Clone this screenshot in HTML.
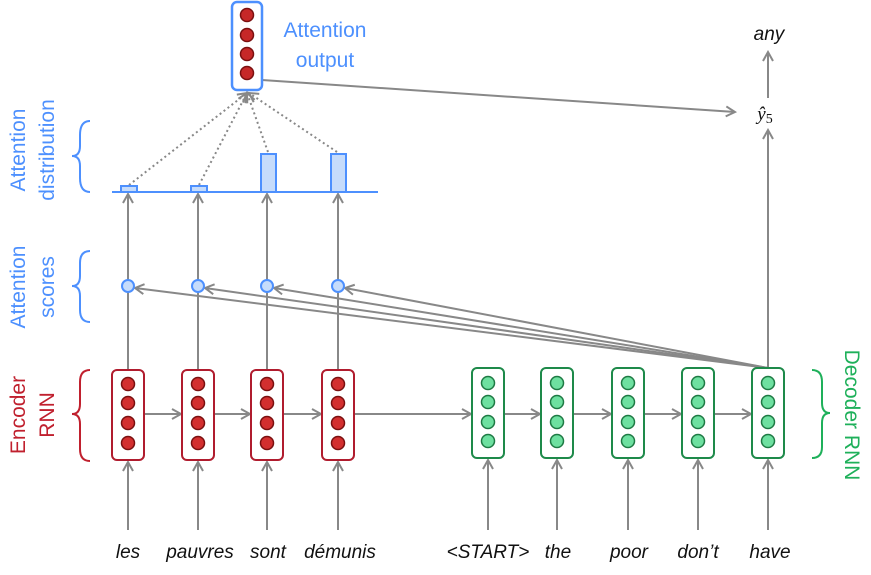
<!DOCTYPE html>
<html><head><style>
body{margin:0;background:#fff;}
svg{display:block;font-family:"Liberation Sans",sans-serif;}
</style></head><body>
<svg width="871" height="575" viewBox="0 0 871 575" xmlns="http://www.w3.org/2000/svg">
<defs>
<marker id="a" markerWidth="12" markerHeight="12" refX="10" refY="6" orient="auto" markerUnits="userSpaceOnUse">
<path d="M1,1 L10,6 L1,11" fill="none" stroke="#888" stroke-width="2"/>
</marker>
</defs>
<g stroke="#888" stroke-width="2" fill="none">
<!-- input arrows -->
<line x1="128" y1="530" x2="128" y2="462" marker-end="url(#a)"/>
<line x1="198" y1="530" x2="198" y2="462" marker-end="url(#a)"/>
<line x1="267" y1="530" x2="267" y2="462" marker-end="url(#a)"/>
<line x1="338" y1="530" x2="338" y2="462" marker-end="url(#a)"/>
<line x1="488" y1="530" x2="488" y2="460" marker-end="url(#a)"/>
<line x1="557" y1="530" x2="557" y2="460" marker-end="url(#a)"/>
<line x1="628" y1="530" x2="628" y2="460" marker-end="url(#a)"/>
<line x1="698" y1="530" x2="698" y2="460" marker-end="url(#a)"/>
<line x1="768" y1="530" x2="768" y2="460" marker-end="url(#a)"/>
<!-- horizontal -->
<line x1="144" y1="414" x2="181" y2="414" marker-end="url(#a)"/>
<line x1="214" y1="414" x2="250" y2="414" marker-end="url(#a)"/>
<line x1="283" y1="414" x2="321" y2="414" marker-end="url(#a)"/>
<line x1="354" y1="414" x2="471" y2="414" marker-end="url(#a)"/>
<line x1="504" y1="414" x2="540" y2="414" marker-end="url(#a)"/>
<line x1="573" y1="414" x2="611" y2="414" marker-end="url(#a)"/>
<line x1="644" y1="414" x2="681" y2="414" marker-end="url(#a)"/>
<line x1="714" y1="414" x2="751" y2="414" marker-end="url(#a)"/>
<!-- encoder up to scores -->
<line x1="128" y1="370" x2="128" y2="292"/>
<line x1="198" y1="370" x2="198" y2="292"/>
<line x1="267" y1="370" x2="267" y2="292"/>
<line x1="338" y1="370" x2="338" y2="292"/>
<!-- scores to dist -->
<line x1="128" y1="280" x2="128" y2="194" marker-end="url(#a)"/>
<line x1="198" y1="280" x2="198" y2="194" marker-end="url(#a)"/>
<line x1="267" y1="280" x2="267" y2="194" marker-end="url(#a)"/>
<line x1="338" y1="280" x2="338" y2="194" marker-end="url(#a)"/>
<!-- decoder to scores -->
<line x1="768" y1="368" x2="135" y2="288" marker-end="url(#a)"/>
<line x1="768" y1="368" x2="205" y2="288" marker-end="url(#a)"/>
<line x1="768" y1="368" x2="274" y2="288" marker-end="url(#a)"/>
<line x1="768" y1="368" x2="345" y2="288" marker-end="url(#a)"/>
<!-- decoder up -->
<line x1="768" y1="368" x2="768" y2="130" marker-end="url(#a)"/>
<line x1="768" y1="98" x2="768" y2="52" marker-end="url(#a)"/>
<line x1="262" y1="80" x2="735" y2="112" marker-end="url(#a)"/>
<!-- dotted -->
<g stroke-dasharray="2,3" stroke-width="2">
<line x1="129" y1="185" x2="247" y2="93" marker-end="url(#a)"/>
<line x1="199" y1="185" x2="247" y2="93" marker-end="url(#a)"/>
<line x1="268" y1="152" x2="247" y2="93" marker-end="url(#a)"/>
<line x1="337" y1="152" x2="249" y2="93" marker-end="url(#a)"/>
</g>
</g>
<!-- dist -->
<g stroke="#4d90fe" stroke-width="2" fill="#c6dcfb">
<line x1="112" y1="192" x2="378" y2="192"/>
<rect x="121" y="186" width="16" height="6"/>
<rect x="191" y="186" width="16" height="6"/>
<rect x="261" y="154" width="15" height="38"/>
<rect x="331" y="154" width="15" height="38"/>
<circle cx="128" cy="286" r="6"/><circle cx="198" cy="286" r="6"/><circle cx="267" cy="286" r="6"/><circle cx="338" cy="286" r="6"/>
</g>
<!-- attention output -->
<rect x="232" y="2" width="30" height="88" rx="5" fill="#fff" stroke="#4d90fe" stroke-width="2.5"/>
<g fill="#c62828" stroke="#7a1010" stroke-width="1.5">
<circle cx="247" cy="15" r="6.5"/><circle cx="247" cy="35" r="6.5"/><circle cx="247" cy="54" r="6.5"/><circle cx="247" cy="73" r="6.5"/>
</g>
<!-- encoder boxes -->
<g stroke="#b01c2e" stroke-width="2" fill="#fff">
<rect x="112" y="370" width="32" height="90" rx="5"/>
<rect x="182" y="370" width="32" height="90" rx="5"/>
<rect x="251" y="370" width="32" height="90" rx="5"/>
<rect x="322" y="370" width="32" height="90" rx="5"/>
</g>
<g fill="#d32f2f" stroke="#7a1010" stroke-width="1.5">
<circle cx="128" cy="384" r="6.5"/><circle cx="128" cy="403" r="6.5"/><circle cx="128" cy="423" r="6.5"/><circle cx="128" cy="443" r="6.5"/>
<circle cx="198" cy="384" r="6.5"/><circle cx="198" cy="403" r="6.5"/><circle cx="198" cy="423" r="6.5"/><circle cx="198" cy="443" r="6.5"/>
<circle cx="267" cy="384" r="6.5"/><circle cx="267" cy="403" r="6.5"/><circle cx="267" cy="423" r="6.5"/><circle cx="267" cy="443" r="6.5"/>
<circle cx="338" cy="384" r="6.5"/><circle cx="338" cy="403" r="6.5"/><circle cx="338" cy="423" r="6.5"/><circle cx="338" cy="443" r="6.5"/>
</g>
<!-- decoder boxes -->
<g stroke="#1e8a4a" stroke-width="2" fill="#fff">
<rect x="472" y="368" width="32" height="90" rx="5"/>
<rect x="541" y="368" width="32" height="90" rx="5"/>
<rect x="612" y="368" width="32" height="90" rx="5"/>
<rect x="682" y="368" width="32" height="90" rx="5"/>
<rect x="752" y="368" width="32" height="90" rx="5"/>
</g>
<g fill="#6ee0a0" stroke="#1e7a44" stroke-width="1.5">
<circle cx="488" cy="383" r="6.5"/><circle cx="488" cy="402" r="6.5"/><circle cx="488" cy="422" r="6.5"/><circle cx="488" cy="441" r="6.5"/>
<circle cx="557" cy="383" r="6.5"/><circle cx="557" cy="402" r="6.5"/><circle cx="557" cy="422" r="6.5"/><circle cx="557" cy="441" r="6.5"/>
<circle cx="628" cy="383" r="6.5"/><circle cx="628" cy="402" r="6.5"/><circle cx="628" cy="422" r="6.5"/><circle cx="628" cy="441" r="6.5"/>
<circle cx="698" cy="383" r="6.5"/><circle cx="698" cy="402" r="6.5"/><circle cx="698" cy="422" r="6.5"/><circle cx="698" cy="441" r="6.5"/>
<circle cx="768" cy="383" r="6.5"/><circle cx="768" cy="402" r="6.5"/><circle cx="768" cy="422" r="6.5"/><circle cx="768" cy="441" r="6.5"/>
</g>
<!-- braces -->
<g fill="none" stroke-width="2">
<path d="M90,121 Q80,121 80,135 L80,146 Q80,156 72,156 Q80,156 80,166 L80,178 Q80,192 90,192" stroke="#4d90fe"/>
<path d="M90,251 Q80,251 80,263 L80,276 Q80,286 72,286 Q80,286 80,296 L80,310 Q80,322 90,322" stroke="#4d90fe"/>
<path d="M90,370 Q80,370 80,382 L80,404 Q80,414 72,414 Q80,414 80,424 L80,449 Q80,461 90,461" stroke="#c0202e"/>
<path d="M812,370 Q822,370 822,382 L822,403 Q822,413 830,413 Q822,413 822,423 L822,447 Q822,458 812,458" stroke="#1eb05a"/>
</g>
<!-- labels -->
<g font-size="21" text-anchor="middle">
<text x="325" y="37" fill="#4d90fe">Attention</text>
<text x="325" y="67" fill="#4d90fe">output</text>
<text transform="translate(25,150) rotate(-90)" fill="#4d90fe">Attention</text>
<text transform="translate(54,150) rotate(-90)" fill="#4d90fe">distribution</text>
<text transform="translate(25,287) rotate(-90)" fill="#4d90fe">Attention</text>
<text transform="translate(54,287) rotate(-90)" fill="#4d90fe">scores</text>
<text transform="translate(25,415) rotate(-90)" fill="#c0202e">Encoder</text>
<text transform="translate(54,415) rotate(-90)" fill="#c0202e">RNN</text>
<text transform="translate(845,415) rotate(90)" fill="#1eb05a">Decoder RNN</text>
</g>
<g font-size="19" font-style="italic" text-anchor="middle" fill="#111">
<text x="128" y="558">les</text>
<text x="200" y="558">pauvres</text>
<text x="268" y="558">sont</text>
<text x="340" y="558">démunis</text>
<text x="488" y="558">&lt;START&gt;</text>
<text x="558" y="558">the</text>
<text x="629" y="558">poor</text>
<text x="698" y="558">don’t</text>
<text x="770" y="558">have</text>
<text x="769" y="40">any</text>
<text x="765" y="120" font-family="Liberation Serif,serif">ŷ<tspan font-size="14" font-style="normal" dy="3">5</tspan></text>
</g>
</svg>
</body></html>
